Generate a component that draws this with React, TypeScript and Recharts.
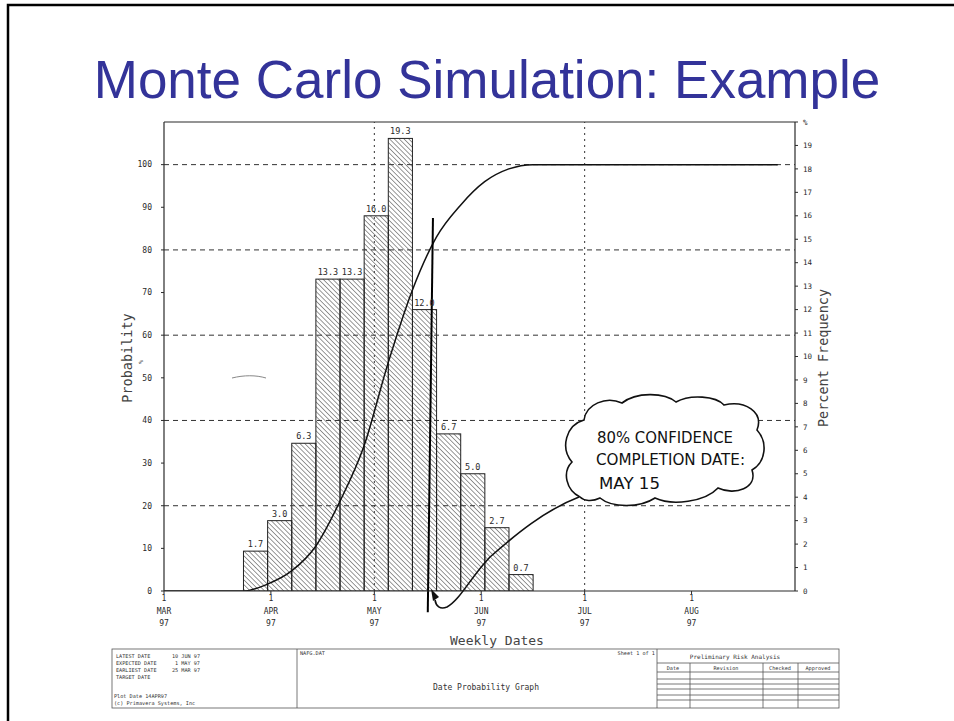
import React from "react";
import {
  ComposedChart,
  Bar,
  Line,
  XAxis,
  YAxis,
  ReferenceLine,
  LabelList,
} from "recharts";

// days counted from 1 MAR 97, weekly bins starting 24 MAR
const binDays = [26.5, 33.5, 40.5, 47.5, 54.5, 61.5, 68.5, 75.5, 82.5, 89.5, 96.5, 103.5];
const binFreq = [1.7, 3.0, 6.3, 13.3, 13.3, 16.0, 19.3, 12.0, 6.7, 5.0, 2.7, 0.7];

// cumulative probability curve
const curveDays = [0, 23, 30, 37, 44, 51, 58, 65, 72, 79, 86, 93, 100, 107, 178];
const curveProb = [0, 0, 1.6, 4.7, 10.5, 21, 34, 53.5, 70.5, 83, 90.5, 96, 99, 100, 100];

const monthDays = [0, 31, 61, 92, 122, 153];
const monthNames = ["MAR", "APR", "MAY", "JUN", "JUL", "AUG"];
const monthGrid = [61, 122];

const probTicks = [0, 10, 20, 30, 40, 50, 60, 70, 80, 90, 100];
const probGrid = [20, 40, 60, 80, 100];
const freqTicks = [0, 1, 2, 3, 4, 5, 6, 7, 8, 9, 10, 11, 12, 13, 14, 15, 16, 17, 18, 19, 20];

const bins = binDays.map((day, i) => ({ day, freq: binFreq[i] }));
const curve = curveDays.map((day, i) => ({ day, cum: curveProb[i] }));

const MONO = "'DejaVu Sans Mono', monospace";
const INK = "#2a2a2a";

const DAY_SPAN = 183;
const PLOT_W = 631;
const BIN_W = (7 * PLOT_W) / DAY_SPAN; // one week wide

const MonthTick = (props: any) => {
  const { x, y, payload } = props;
  const i = monthDays.indexOf(payload.value);
  return (
    <g transform={`translate(${x},${y})`}>
      <text textAnchor="middle" fontSize={8} fontFamily={MONO} fill={INK}>
        <tspan x={0} dy={5}>1</tspan>
        <tspan x={0} dy={13}>{monthNames[i]}</tspan>
        <tspan x={0} dy={12}>97</tspan>
      </text>
    </g>
  );
};

// bars fill the whole week of their bin
const WeekBar = (props: any) => {
  const { x, y, width, height } = props;
  if (!height || height <= 0) return null;
  const cx = x + width / 2;
  return (
    <rect
      x={cx - BIN_W / 2}
      y={y}
      width={BIN_W}
      height={height}
      fill="url(#hatch)"
      stroke="#222"
      strokeWidth={1}
    />
  );
};

const Overlay = () => (
  <svg
    width={954}
    height={721}
    style={{ position: "absolute", left: 0, top: 0, pointerEvents: "none" }}
  >
    {/* slide frame */}
    <path d="M8,721 L8,5 L954,5" fill="none" stroke="#000" strokeWidth={2.5} />
    <text
      x={487}
      y={98}
      textAnchor="middle"
      fontSize={53}
      fontFamily="'Liberation Sans', Arial, sans-serif"
      fill="#333399"
    >
      Monte Carlo Simulation: Example
    </text>

    {/* axis titles */}
    <text
      transform="translate(132,358) rotate(-90)"
      textAnchor="middle"
      fontSize={13.5}
      fontFamily={MONO}
      fill="#444"
    >
      Probability
    </text>
    <text
      transform="translate(143,362) rotate(-90)"
      textAnchor="middle"
      fontSize={6}
      fontFamily={MONO}
      fill="#444"
    >
      %
    </text>
    <text
      transform="translate(828,358) rotate(-90)"
      textAnchor="middle"
      fontSize={13.5}
      fontFamily={MONO}
      fill="#444"
    >
      Percent Frequency
    </text>
    <text x={497} y={645} textAnchor="middle" fontSize={13} fontFamily={MONO} fill="#444">
      Weekly Dates
    </text>

    {/* stray pen mark */}
    <path d="M232,378 C244,375 256,375 266,378" fill="none" stroke="#888" strokeWidth={1} />

    {/* callout cloud */}
    <path
      d="M580,497 C566,490 562,472 572,462 C560,448 566,425 584,420 C586,404 606,396 622,403
         C636,392 664,392 676,402 C690,394 716,396 724,405 C745,400 764,412 757,430
         C768,442 766,462 752,470 C758,488 735,496 718,488 C705,502 672,506 655,498
         C640,508 612,508 600,498 C592,502 584,501 580,497 Z"
      fill="#fff"
      stroke="#111"
      strokeWidth={1.6}
    />
    <g fontFamily="'DejaVu Sans', sans-serif" fontSize={15} fill="#111">
      <text x={597} y={443} textLength={136} lengthAdjust="spacingAndGlyphs">80% CONFIDENCE</text>
      <text x={596} y={465} textLength={149} lengthAdjust="spacingAndGlyphs">COMPLETION DATE:</text>
      <text x={599} y={489} textLength={61} lengthAdjust="spacingAndGlyphs">MAY 15</text>
    </g>
    <path
      d="M579,497 C545,510 515,535 490,557 C470,578 460,600 447,607 C440,610 436,606 435,600"
      fill="none"
      stroke="#111"
      strokeWidth={1.6}
    />
    <polygon points="431,589 439,597 433,601" fill="#111" />

    {/* title block */}
    <g stroke="#555" strokeWidth={0.8} fill="none">
      <rect x={112} y={649} width={727} height={59} />
      <line x1={297} y1={649} x2={297} y2={708} />
      <line x1={657} y1={649} x2={657} y2={708} />
      <line x1={657} y1={663} x2={839} y2={663} />
      <line x1={657} y1={672} x2={839} y2={672} />
      <line x1={657} y1={679} x2={839} y2={679} />
      <line x1={657} y1={684} x2={839} y2={684} />
      <line x1={657} y1={689} x2={839} y2={689} />
      <line x1={657} y1={695} x2={839} y2={695} />
      <line x1={657} y1={700} x2={839} y2={700} />
      <line x1={690} y1={663} x2={690} y2={708} />
      <line x1={763} y1={663} x2={763} y2={708} />
      <line x1={798} y1={663} x2={798} y2={708} />
    </g>
    <g fontFamily={MONO} fontSize={5.2} fill="#333">
      <text x={116} y={658}>LATEST DATE</text>
      <text x={200} y={658} textAnchor="end">10 JUN 97</text>
      <text x={116} y={665}>EXPECTED DATE</text>
      <text x={200} y={665} textAnchor="end">1 MAY 97</text>
      <text x={116} y={672}>EARLIEST DATE</text>
      <text x={200} y={672} textAnchor="end">25 MAR 97</text>
      <text x={116} y={679}>TARGET   DATE</text>
      <text x={114} y={698}>Plot Date   14APR97</text>
      <text x={114} y={705}>(c) Primavera Systems, Inc</text>
      <text x={300} y={655}>NAFG.DAT</text>
      <text x={655} y={655} textAnchor="end">Sheet 1 of 1</text>
      <text x={735} y={659} textAnchor="middle" fontSize={6}>Preliminary Risk Analysis</text>
      <text x={673} y={670} textAnchor="middle">Date</text>
      <text x={726} y={670} textAnchor="middle">Revision</text>
      <text x={780} y={670} textAnchor="middle">Checked</text>
      <text x={818} y={670} textAnchor="middle">Approved</text>
    </g>
    <text x={486} y={690} textAnchor="middle" fontFamily={MONO} fontSize={8} fill="#333">
      Date Probability Graph
    </text>
  </svg>
);

export default function App() {
  return (
    <div style={{ position: "absolute", left: 0, top: 0, width: 954, height: 721, background: "#fff" }}>
      <div style={{ position: "absolute", left: 0, top: 0 }}>
        <ComposedChart
          width={954}
          height={721}
          data={bins}
          margin={{ top: 122, right: 119, bottom: 90, left: 114 }}
        >
          <defs>
            <pattern
              id="hatch"
              width="3.4"
              height="3.4"
              patternUnits="userSpaceOnUse"
              patternTransform="rotate(-45)"
            >
              <line x1="0" y1="0" x2="0" y2="3.4" stroke="#333" strokeWidth="1" />
            </pattern>
          </defs>
          <XAxis
            dataKey="day"
            type="number"
            domain={[0, DAY_SPAN]}
            ticks={monthDays}
            interval={0}
            allowDataOverflow
            tick={<MonthTick />}
            tickSize={3}
            tickLine={{ stroke: INK }}
            axisLine={{ stroke: INK, strokeWidth: 1.2 }}
            height={40}
          />
          <YAxis
            yAxisId="left"
            domain={[0, 110]}
            ticks={probTicks}
            interval={0}
            allowDataOverflow
            width={50}
            tickSize={3}
            tickMargin={9}
            tickLine={{ stroke: INK }}
            axisLine={{ stroke: INK, strokeWidth: 1.2 }}
            tick={{ fontSize: 8, fontFamily: MONO, fill: INK }}
          />
          <YAxis
            yAxisId="right"
            orientation="right"
            domain={[0, 20]}
            ticks={freqTicks}
            interval={0}
            allowDataOverflow
            width={40}
            tickSize={3}
            tickMargin={5}
            tickLine={{ stroke: INK }}
            axisLine={{ stroke: INK, strokeWidth: 1.2 }}
            tickFormatter={(v: number) => (v === 20 ? "%" : String(v))}
            tick={{ fontSize: 7.5, fontFamily: MONO, fill: INK }}
          />
          <Bar
            yAxisId="right"
            dataKey="freq"
            shape={<WeekBar />}
            isAnimationActive={false}
          >
            <LabelList
              dataKey="freq"
              position="top"
              offset={4}
              formatter={(v: any) => Number(v).toFixed(1)}
              style={{ fontSize: 8.5, fontFamily: MONO, fill: INK }}
            />
          </Bar>
          {probGrid.map((v) => (
            <ReferenceLine
              key={`h${v}`}
              yAxisId="left"
              y={v}
              stroke="#333"
              strokeWidth={1}
              strokeDasharray="5 4"
            />
          ))}
          {monthGrid.map((v) => (
            <ReferenceLine
              key={`v${v}`}
              yAxisId="left"
              x={v}
              stroke="#333"
              strokeWidth={1}
              strokeDasharray="2 4"
            />
          ))}
          <ReferenceLine yAxisId="left" y={110} stroke={INK} strokeWidth={1.2} />
          <Line
            yAxisId="left"
            data={curve}
            dataKey="cum"
            type="monotone"
            dot={false}
            stroke="#111"
            strokeWidth={1.5}
            isAnimationActive={false}
          />
          <ReferenceLine
            yAxisId="left"
            ifOverflow="visible"
            segment={[
              { x: 76.5, y: -5 },
              { x: 78, y: 87.5 },
            ]}
            stroke="#000"
            strokeWidth={2}
          />
        </ComposedChart>
      </div>
      <Overlay />
    </div>
  );
}
